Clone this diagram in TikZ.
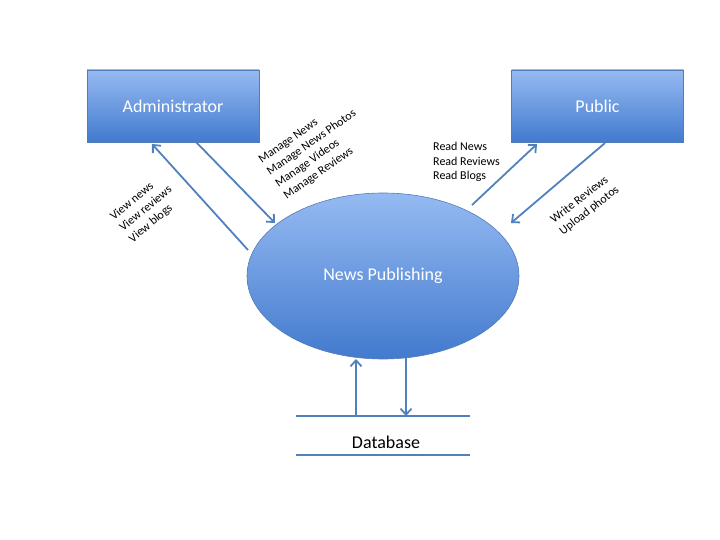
\documentclass[tikz,border=0pt]{standalone}
\usepackage{fontspec}
\setmainfont{Carlito}
\usetikzlibrary{arrows.meta,shapes.geometric}
\definecolor{topblue}{RGB}{150,186,242}
\definecolor{botblue}{RGB}{66,122,206}
\definecolor{edgeblue}{RGB}{82,124,184}
\definecolor{arrowblue}{RGB}{79,129,189}
\tikzset{
  entity/.style={draw=edgeblue, line width=0.6pt, top color=topblue, bottom color=botblue, minimum width=172pt, minimum height=72pt, inner sep=0pt, text=white, font=\fontsize{18}{21}\selectfont},
  process/.style={ellipse, draw=edgeblue, line width=0.6pt, top color=topblue, bottom color=botblue, minimum width=272pt, minimum height=166pt, inner sep=0pt, text=white, font=\fontsize{18}{21}\selectfont},
  flow/.style={draw=arrowblue, line width=1.8pt, -{Straight Barb[length=6pt,width=11pt,line width=1.8pt]}},
  lbl/.style={font=\fontsize{12}{14.5}\selectfont, align=left, inner sep=0pt},
  store/.style={draw=arrowblue, line width=1.8pt}
}
\begin{document}
\begin{tikzpicture}[x=1pt,y=-1pt]
\useasboundingbox (0,0) rectangle (720,540);
\node[entity] (admin) at (173,106) {Administrator};
\node[entity] (public) at (597.5,106) {Public};
\node[process] (np) at (383,276) {News Publishing};
\coordinate (s1) at (296,416);
\coordinate (e1) at (470,416);
\coordinate (s2) at (296,455);
\coordinate (e2) at (470,455);
\draw[store] (s1) -- (e1);
\draw[store] (s2) -- (e2);
\node[font=\fontsize{18}{21}\selectfont] (db) at (386,442) {Database};
% flows
\coordinate (a1s) at (248,250);
\coordinate (a1e) at (152,144);
\draw[flow] (a1s) -- (a1e);
\coordinate (a2s) at (196,142);
\coordinate (a2e) at (275,223);
\draw[flow] (a2s) -- (a2e);
\coordinate (p1s) at (472,205);
\coordinate (p1e) at (537,144);
\draw[flow] (p1s) -- (p1e);
\coordinate (p2s) at (605,143);
\coordinate (p2e) at (511,223);
\draw[flow] (p2s) -- (p2e);
\coordinate (d1s) at (356,416);
\coordinate (d1e) at (356,359);
\draw[flow] (d1s) -- (d1e);
\coordinate (d2s) at (406,358);
\coordinate (d2e) at (406,416);
\draw[flow] (d2s) -- (d2e);
% labels
\node[lbl, rotate=40] (lview) at (146,209) {View news\\View reviews\\View blogs};
\node[lbl, rotate=35] (lmanage) at (316,149) {Manage News\\Manage News Photos\\Manage Videos\\Manage Reviews};
\node[lbl, anchor=north west] (lread) at (433,142) {Read News\\Read Reviews\\Read Blogs};
\node[lbl, rotate=38] (lwrite) at (585,205) {Write Reviews\\Upload photos};
\end{tikzpicture}
\end{document}
